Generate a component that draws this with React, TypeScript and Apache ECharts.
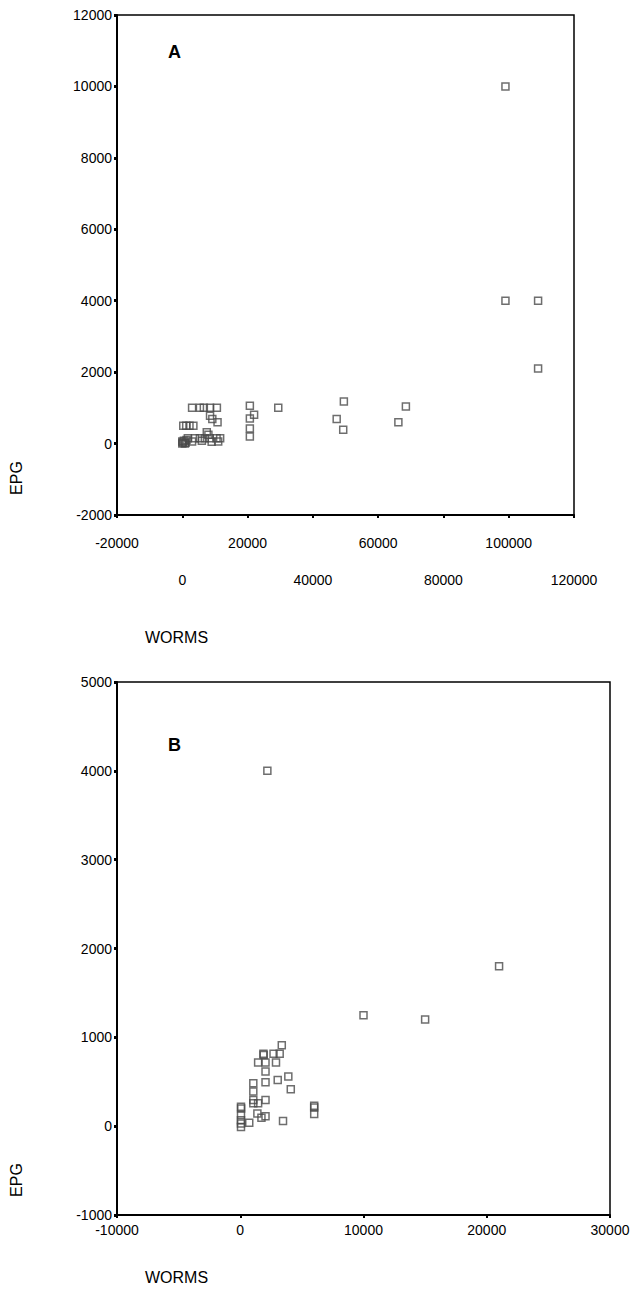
import React, { useEffect, useRef } from "react";
import * as echarts from "echarts";

// Panel A: WORMS vs EPG
const wormsA = [
  99000, 99000, 109000, 109000,
  49500, 47300, 49300, 68500, 66200,
  29400, 20700, 20700, 22000, 20700, 20700,
  3000, 5400, 6600, 8500, 10600,
  8500, 9200, 10800,
  300, 1200, 2200, 3400,
  7500, 8000,
  1700, 3900, 5400, 6900, 8400, 10500, 11600,
  3000, 6000, 9000, 11000,
  0, 200, 500, 1000, 1300, 0, 800,
];
const epgA = [
  10000, 4000, 4000, 2100,
  1180, 690, 390, 1040, 600,
  1000, 1060, 700, 810, 420, 200,
  1000, 1000, 1000, 1000, 1000,
  780, 690, 600,
  500, 500, 500, 500,
  320, 250,
  150, 150, 150, 150, 150, 150, 150,
  60, 80, 50, 60,
  0, 30, 80, 20, 100, 60, 0,
];

// Panel B: WORMS vs EPG
const wormsB = [
  2200, 10000, 15000, 21000,
  3370, 1880, 1900, 2700, 3200,
  1450, 2050, 2900, 2050,
  1060, 2050, 3040, 3900, 4100,
  1060, 1060, 2050, 1060, 1450,
  60, 70, 6000, 6000, 6000,
  1390, 2050, 1720, 60, 3470, 730,
  60, 60, 60,
];
const epgB = [
  4000, 1250, 1200, 1800,
  910, 815, 800, 815, 815,
  717, 717, 717, 615,
  483, 494, 520, 558, 415,
  389, 294, 294, 257, 257,
  219, 200, 230, 211, 136,
  143, 113, 94, 125, 57, 38,
  68, 30, -8,
];

const xTicksA = { min: -20000, max: 120000, interval: 20000 };
const yTicksA = { min: -2000, max: 12000, interval: 2000 };
const xTicksB = { min: -10000, max: 30000, interval: 10000 };
const yTicksB = { min: -1000, max: 5000, interval: 1000 };

const FONT = "'Liberation Sans', Arial, sans-serif";

export default function App() {
  const ref = useRef<HTMLDivElement>(null);
  useEffect(() => {
    if (!ref.current) return;
    const chart = echarts.init(ref.current, null, { renderer: "svg" });
    const pointStyle = {
      color: "rgba(255,255,255,0)",
      borderColor: "#4a4a4a",
      borderWidth: 1.5,
    };
    const axisLine = { show: true, onZero: false, lineStyle: { color: "#000", width: 2 } };
    const yLabel = {
      fontSize: 14,
      color: "#000",
      fontFamily: FONT,
      margin: 5,
      formatter: (v: number) => String(v),
    };
    chart.setOption({
      animation: false,
      backgroundColor: "#fff",
      grid: [
        { left: 117, top: 15, width: 457, height: 500, show: true, borderColor: "#000", borderWidth: 1.5, backgroundColor: "transparent" },
        { left: 117, top: 682, width: 493, height: 533, show: true, borderColor: "#000", borderWidth: 1.5, backgroundColor: "transparent" },
      ],
      xAxis: [
        {
          type: "value",
          gridIndex: 0,
          ...xTicksA,
          splitLine: { show: false },
          axisLine,
          axisTick: { show: true, length: 3, lineStyle: { color: "#000", width: 2 } },
          axisLabel: {
            color: "#000",
            fontFamily: FONT,
            fontSize: 14,
            margin: 21,
            showMinLabel: true,
            showMaxLabel: true,
            hideOverlap: false,
            formatter: (v: number) => {
              const idx = Math.round((v - xTicksA.min) / xTicksA.interval);
              return idx % 2 === 0 ? `{a|${v}}` : `{b|${v}}`;
            },
            rich: {
              a: { fontSize: 14, fontFamily: FONT, color: "#000" },
              b: { fontSize: 14, fontFamily: FONT, color: "#000", padding: [37, 0, 0, 0] },
            },
          },
        },
        {
          type: "value",
          gridIndex: 1,
          ...xTicksB,
          splitLine: { show: false },
          axisLine,
          axisTick: { show: true, length: 3, lineStyle: { color: "#000", width: 2 } },
          axisLabel: {
            color: "#000",
            fontFamily: FONT,
            fontSize: 14,
            margin: 8,
            showMinLabel: true,
            showMaxLabel: true,
            formatter: (v: number) => String(v),
          },
        },
      ],
      yAxis: [
        {
          type: "value",
          gridIndex: 0,
          ...yTicksA,
          splitLine: { show: false },
          axisLine,
          axisTick: { show: true, length: 3, lineStyle: { color: "#000", width: 3 } },
          axisLabel: yLabel,
        },
        {
          type: "value",
          gridIndex: 1,
          ...yTicksB,
          splitLine: { show: false },
          axisLine,
          axisTick: { show: true, length: 3, lineStyle: { color: "#000", width: 3 } },
          axisLabel: yLabel,
        },
      ],
      series: [
        {
          type: "scatter",
          xAxisIndex: 0,
          yAxisIndex: 0,
          symbol: "rect",
          symbolSize: 7,
          itemStyle: pointStyle,
          data: wormsA.map((x, i) => [x, epgA[i]]),
        },
        {
          type: "scatter",
          xAxisIndex: 1,
          yAxisIndex: 1,
          symbol: "rect",
          symbolSize: 7,
          itemStyle: pointStyle,
          data: wormsB.map((x, i) => [x, epgB[i]]),
        },
      ],
      graphic: [
        { type: "text", x: 168, y: 52, style: { text: "A", font: `bold 18px ${FONT}`, fill: "#000", verticalAlign: "middle" } },
        { type: "text", x: 168, y: 745, style: { text: "B", font: `bold 18px ${FONT}`, fill: "#000", verticalAlign: "middle" } },
        { type: "text", x: 145, y: 637, style: { text: "WORMS", font: `16px ${FONT}`, fill: "#000", verticalAlign: "middle" } },
        { type: "text", x: 145, y: 1277, style: { text: "WORMS", font: `16px ${FONT}`, fill: "#000", verticalAlign: "middle" } },
        { type: "text", x: 16, y: 478, rotation: Math.PI / 2, style: { text: "EPG", font: `16px ${FONT}`, fill: "#000", align: "center", verticalAlign: "middle" } },
        { type: "text", x: 16, y: 1180, rotation: Math.PI / 2, style: { text: "EPG", font: `16px ${FONT}`, fill: "#000", align: "center", verticalAlign: "middle" } },
      ],
    });
    return () => chart.dispose();
  }, []);
  return <div ref={ref} style={{ position: "absolute", left: 0, top: 0, width: 634, height: 1304 }} />;
}
